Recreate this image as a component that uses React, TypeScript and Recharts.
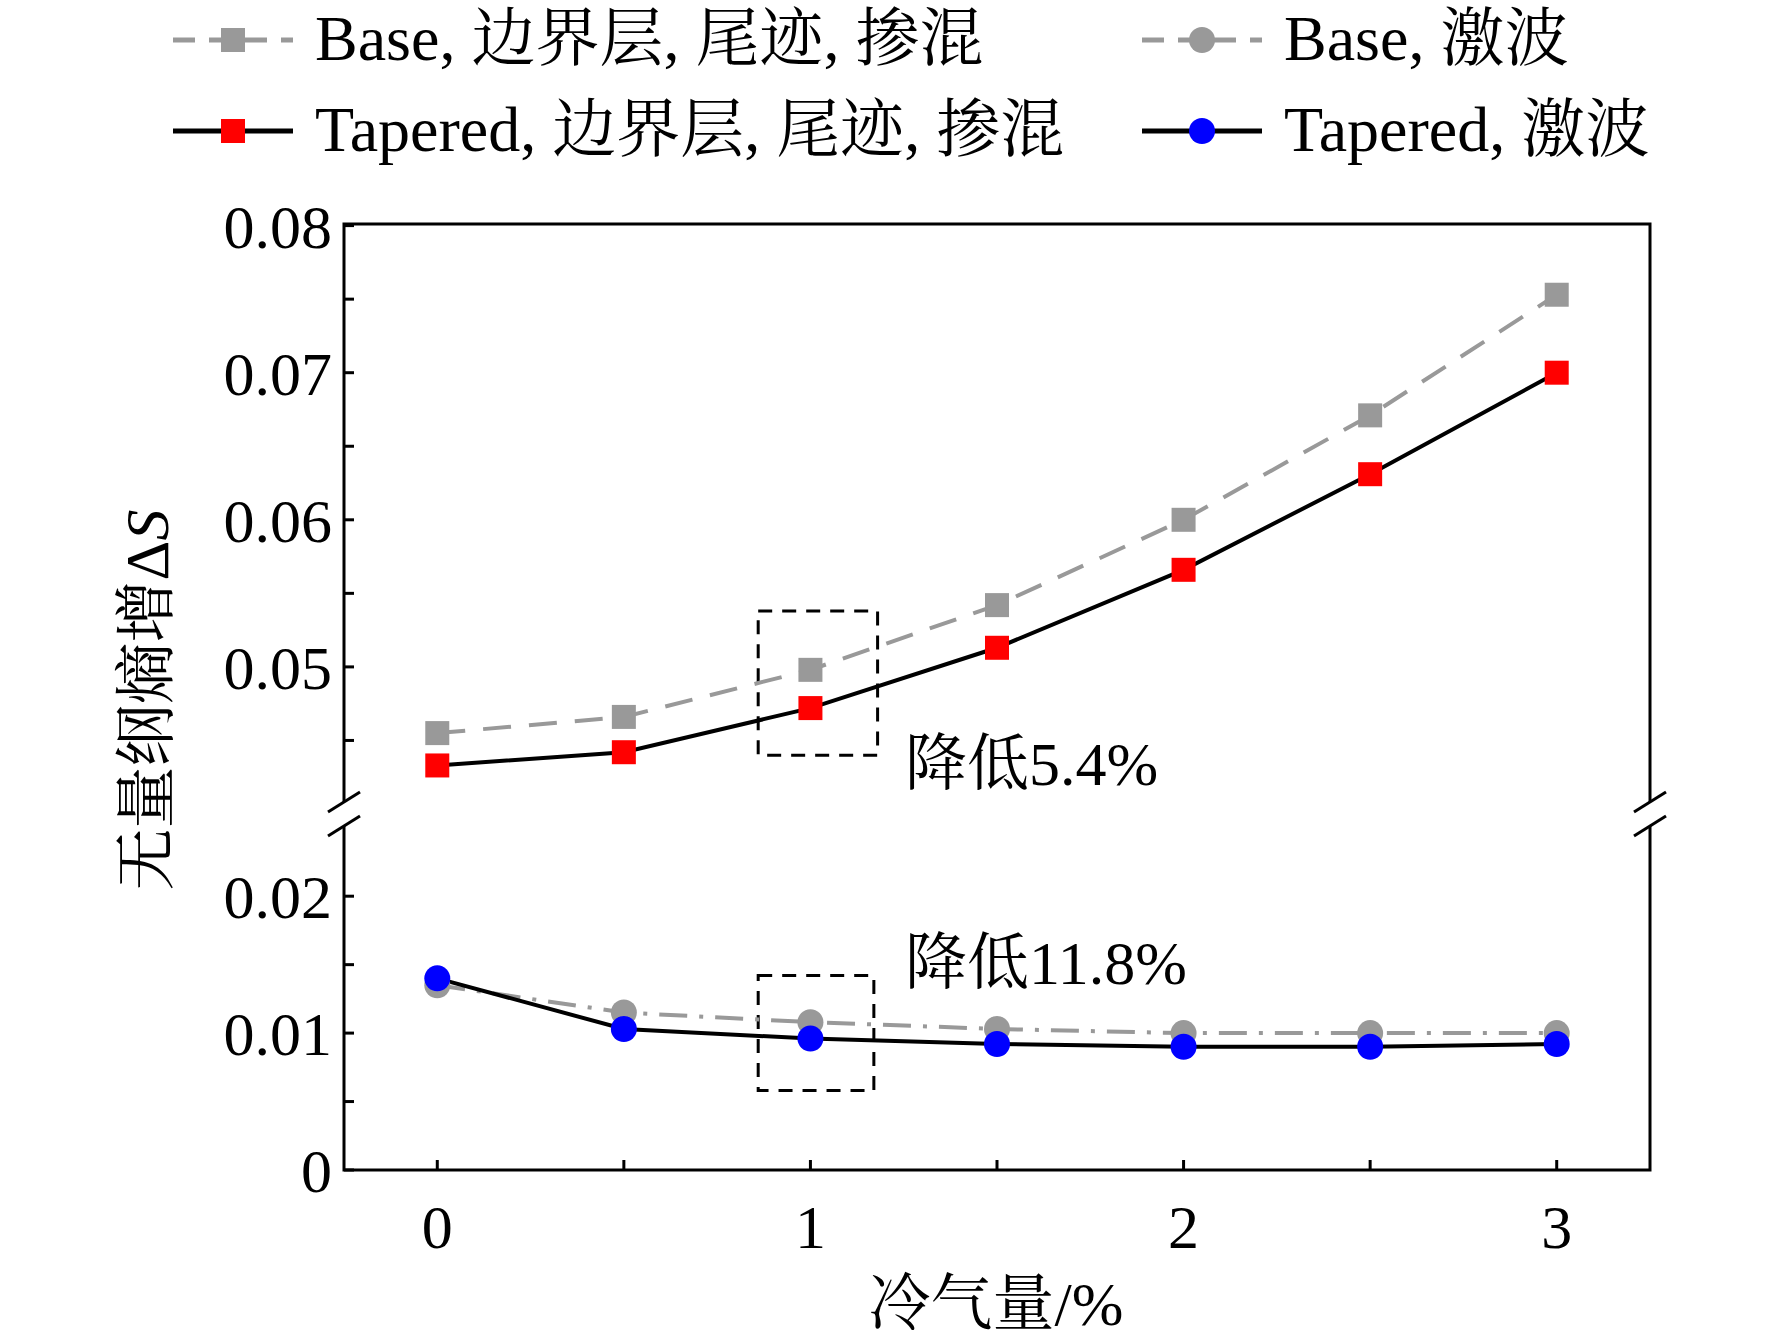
import React from 'react';
import { LineChart, Line, XAxis, YAxis, ReferenceArea, ReferenceDot } from 'recharts';

const coolant = [0, 0.5, 1, 1.5, 2, 2.5, 3];
const baseMix = [0.0455, 0.0466, 0.0498, 0.0542, 0.06, 0.0671, 0.0753];
const taperedMix = [0.0433, 0.0442, 0.0472, 0.0513, 0.0566, 0.0631, 0.07];
const baseShock = [0.0135, 0.0115, 0.0108, 0.0103, 0.01, 0.01, 0.01];
const taperedShock = [0.014, 0.0103, 0.0096, 0.0092, 0.009, 0.009, 0.0092];
const majorTicks = [0, 0.01, 0.02, 0.05, 0.06, 0.07, 0.08];
const minorTicks = [0.005, 0.015, 0.045, 0.055, 0.065, 0.075];
const xTicks = [0, 0.5, 1, 1.5, 2, 2.5, 3];

// broken axis: lower 0..0.026, upper 0.04..0.08, mapped to pixel-like units
const BREAK = 356;
const tf = (v: number) => (v < 0.03 ? v * 13690 : BREAK + (v - 0.04) * 14710);

const FONT = '"Liberation Serif", "Times New Roman", "Noto Serif CJK SC", "Noto Sans CJK SC", serif';

const data = coolant.map((x, i) => ({
  x,
  bm: tf(baseMix[i]),
  tm: tf(taperedMix[i]),
  bs: tf(baseShock[i]),
  ts: tf(taperedShock[i]),
}));

const square = (fill: string) => (p: any) => (
  <rect key={p.index} x={p.cx - 12} y={p.cy - 12} width={24} height={24} fill={fill} />
);

const L = 344, T = 224, W = 1306, H = 946;
const breakY = T + H - BREAK;

function LegendItem({ x, y, color, dash, marker, label }: any) {
  return (
    <g>
      <line x1={x} x2={x + 120} y1={y} y2={y} stroke={color} strokeWidth={5} strokeDasharray={dash} />
      {marker === 'sq'
        ? <rect x={x + 48} y={y - 12} width={24} height={24} fill={color === '#000' ? 'red' : '#999'} />
        : <circle cx={x + 60} cy={y} r={13} fill={color === '#000' ? 'blue' : '#999'} />}
      <text x={x + 142} y={y + 20} fontSize={64} fontFamily={FONT}>{label}</text>
    </g>
  );
}

export default function App() {
  return (
    <div style={{ position: 'absolute', left: 0, top: 0, width: 1772, height: 1343, background: '#fff' }}>
      <LineChart width={1772} height={1343} data={data}
        margin={{ top: T, left: L - 150, right: 1772 - L - W, bottom: 1343 - T - H - 90 }}>
        <XAxis dataKey="x" type="number" domain={[-0.25, 3.25]} ticks={xTicks} height={90} interval={0}
          axisLine={false} tickLine={{ stroke: '#000', strokeWidth: 3 }} tickSize={-10}
          tickFormatter={(v: number) => (Number.isInteger(v) ? String(v) : '')}
          tick={{ fill: '#000', fontSize: 62, fontFamily: FONT, dy: 42 }} />
        <YAxis type="number" domain={[0, H]} width={150} axisLine={false} interval={0}
          ticks={[...majorTicks, ...minorTicks].map(tf)}
          tickLine={{ stroke: '#000', strokeWidth: 3 }} tickSize={-10}
          tickFormatter={(t: number) => {
            const m = majorTicks.find(v => Math.abs(tf(v) - t) < 0.5);
            return m === undefined ? '' : String(m);
          }}
          tick={{ fill: '#000', fontSize: 62, fontFamily: FONT, dx: -20 }} />
        <ReferenceArea x1={0.86} x2={1.18} y1={tf(0.044)} y2={tf(0.0538)} fill="none"
          stroke="#000" strokeWidth={3} strokeDasharray="14 10" />
        <ReferenceArea x1={0.86} x2={1.17} y1={tf(0.0058)} y2={tf(0.0142)} fill="none"
          stroke="#000" strokeWidth={3} strokeDasharray="14 10" />
        <ReferenceDot x={1.24} y={tf(0.0435)} r={0} fill="none" stroke="none"
          label={{ value: '降低5.4%', position: 'right', fontSize: 62, fontFamily: FONT, fill: '#000' }} />
        <ReferenceDot x={1.24} y={tf(0.0152)} r={0} fill="none" stroke="none"
          label={{ value: '降低11.8%', position: 'right', fontSize: 62, fontFamily: FONT, fill: '#000' }} />
        <Line dataKey="bm" stroke="#999" strokeWidth={4} strokeDasharray="28 18" dot={square('#999')} isAnimationActive={false} />
        <Line dataKey="bs" stroke="#999" strokeWidth={4} strokeDasharray="28 12 4 12" dot={{ r: 13, fill: '#999', stroke: 'none' }} isAnimationActive={false} />
        <Line dataKey="tm" stroke="#000" strokeWidth={4} dot={square('red')} isAnimationActive={false} />
        <Line dataKey="ts" stroke="#000" strokeWidth={4} dot={{ r: 13, fill: 'blue', stroke: 'none' }} isAnimationActive={false} />
      </LineChart>
      <svg width={1772} height={1343} style={{ position: 'absolute', left: 0, top: 0, pointerEvents: 'none' }}>
        <rect x={L} y={T} width={W} height={H} fill="none" stroke="#000" strokeWidth={3} />
        {[L, L + W].map(x => (
          <g key={x}>
            <rect x={x - 10} y={breakY - 12} width={20} height={24} fill="#fff" />
            <line x1={x - 16} y1={breakY - 2} x2={x + 16} y2={breakY - 22} stroke="#000" strokeWidth={3} />
            <line x1={x - 16} y1={breakY + 22} x2={x + 16} y2={breakY + 2} stroke="#000" strokeWidth={3} />
          </g>
        ))}
        <LegendItem x={173} y={40} color="#999" dash="22 14" marker="sq" label="Base, 边界层, 尾迹, 掺混" />
        <LegendItem x={1142} y={40} color="#999" dash="22 14" marker="ci" label="Base, 激波" />
        <LegendItem x={173} y={131} color="#000" marker="sq" label="Tapered, 边界层, 尾迹, 掺混" />
        <LegendItem x={1142} y={131} color="#000" marker="ci" label="Tapered, 激波" />
        <text transform="translate(168,700) rotate(-90)" textAnchor="middle" fontSize={62} fontFamily={FONT}>
          无量纲熵增Δ<tspan fontStyle="italic">S</tspan>
        </text>
        <text x={996} y={1325} textAnchor="middle" fontSize={62} fontFamily={FONT}>冷气量/%</text>
      </svg>
    </div>
  );
}
